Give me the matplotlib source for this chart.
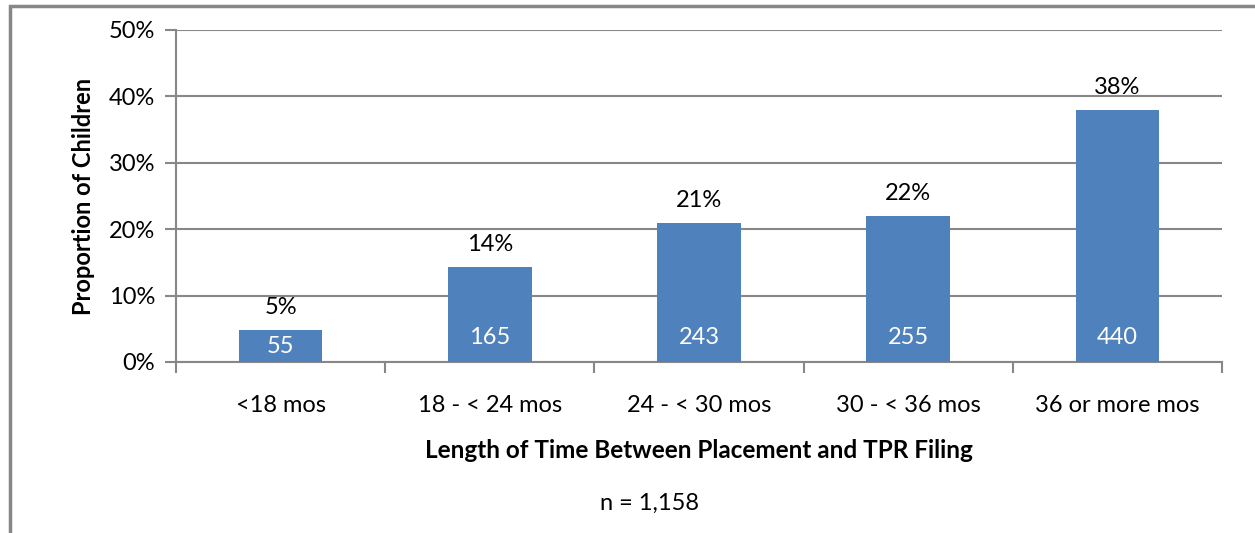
import matplotlib
matplotlib.use("Agg")
import matplotlib.pyplot as plt
from matplotlib.patches import Rectangle

categories = ["<18 mos", "18 - < 24 mos", "24 - < 30 mos", "30 - < 36 mos", "36 or more mos"]
counts = [55, 165, 243, 255, 440]
percents = [4.75, 14.25, 21.0, 22.0, 38.0]
pct_labels = ["5%", "14%", "21%", "22%", "38%"]
yticks = [0, 10, 20, 30, 40, 50]
ytick_labels = ["0%", "10%", "20%", "30%", "40%", "50%"]

W, H = 1255, 533
FS = 17
plt.rcParams['font.family'] = ['Lato', 'DejaVu Sans']
fig = plt.figure(figsize=(W / 100, H / 100), dpi=100)

ax = fig.add_axes([176 / W, 1 - 362 / H, (1222 - 176) / W, (362 - 30) / H])
gray = "#878787"
bar_color = "#4F81BD"

x = list(range(len(categories)))
ax.bar(x, percents, width=0.4, color=bar_color, zorder=3)
ax.set_xlim(-0.5, len(categories) - 0.5)
ax.set_ylim(0, 50)
ax.set_yticks(yticks)
ax.set_yticklabels(ytick_labels, fontsize=FS)
ax.yaxis.grid(True, color=gray, linewidth=1.5, zorder=0)
ax.set_axisbelow(True)

ax.set_xticks(x)
ax.set_xticklabels(categories, fontsize=FS)
ax.tick_params(axis='x', length=0, pad=24)
ax.set_xticks([i - 0.5 for i in range(len(categories) + 1)], minor=True)
ax.tick_params(axis='x', which='minor', length=8, width=1.5, color=gray, direction='out')
ax.tick_params(axis='y', length=8, width=1.5, color=gray, direction='out', pad=7)

for s in ['top', 'right']:
    ax.spines[s].set_visible(False)
for s in ['left', 'bottom']:
    ax.spines[s].set_color(gray)
    ax.spines[s].set_linewidth(1.5)

for xi, p, lab, c in zip(x, percents, pct_labels, counts):
    ax.annotate(lab, (xi, p), xytext=(0, 16), textcoords='offset pixels',
                ha='center', va='baseline', fontsize=FS, color='black')
    ax.text(xi, min(p / 2, 3.75), str(c), ha='center', va='center',
            fontsize=FS, color='white', zorder=4)

ax.set_ylabel("Proportion of Children", fontsize=FS, fontweight='bold', labelpad=10)
fig.text(699 / W, 1 - 451 / H, "Length of Time Between Placement and TPR Filing",
         ha='center', va='center', fontsize=17.5, fontweight='bold')
fig.text(649 / W, 1 - 503 / H, "n = 1,158", ha='center', va='center', fontsize=FS)

frame = Rectangle((10 / W, -0.1), 1.2, 1 - 6 / H + 0.1, transform=fig.transFigure,
                  fill=False, edgecolor=gray, linewidth=2.5)
fig.patches.append(frame)

fig.savefig("out.png", dpi=100)
